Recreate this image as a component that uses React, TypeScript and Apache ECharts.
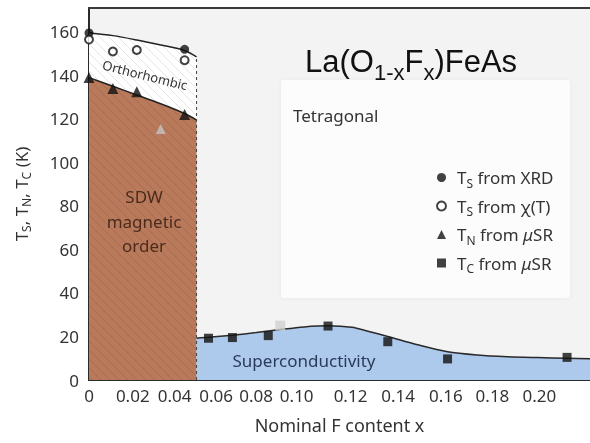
import React, { useEffect, useRef } from 'react';
import * as echarts from 'echarts';

// Measured transition temperatures (x = nominal F content, value in K)
const TS_XRD = [[0, 159.5], [0.04, 152]];
const TS_CHI = [[0, 156.5], [0.01, 151], [0.02, 151.7], [0.04, 147]];
const TN_MUSR = [[0, 139], [0.01, 134], [0.02, 132.5], [0.04, 122]];
const TC_MUSR = [[0.05, 19.2], [0.06, 19.5], [0.075, 20.4], [0.1, 24.8], [0.125, 17.6], [0.15, 9.7], [0.2, 10.4]];
const GREY_TRIANGLES = [[0.03, 115.4]];
const GREY_SQUARES = [[0.08, 25]];

// Phase boundaries
const TS_BOUNDARY = [[0, 159.5], [0.01, 158.3], [0.02, 156.3], [0.03, 154], [0.04, 151.5], [0.045, 148.5]];
const TN_BOUNDARY = [[0, 139], [0.01, 135], [0.02, 131], [0.03, 127], [0.04, 122.5], [0.045, 119.5]];
const TC_DOME = [
  [0.045, 19.2], [0.05, 19.6], [0.06, 20.6], [0.07, 21.8], [0.08, 23.2], [0.09, 24.4], [0.1, 24.9],
  [0.11, 24.2], [0.1167, 22.4], [0.125, 20], [0.1375, 16.2], [0.15, 13], [0.1625, 11.5],
  [0.175, 10.7], [0.1875, 10.3], [0.2, 10], [0.2096, 9.8],
];
const SDW_EDGE = [[0.045, 0], [0.045, 148.5]];

// x tick labels and where each one sits along the axis
const X_LABELS = ['0', '0.02', '0.04', '0.06', '0.08', '0.10', '0.12', '0.14', '0.16', '0.18', '0.20'];
const X_LABEL_AT = [0, 0.0183, 0.0358, 0.0532, 0.0699, 0.0869, 0.1094, 0.1293, 0.1493, 0.1688, 0.1884];

const LEGEND_TEXT: Record<string, string> = {
  'TS XRD': '{f|T}{s|S} from XRD',
  'TS chi': '{f|T}{s|S} from χ(T)',
  'TN muSR': '{f|T}{s|N} from {i|μ}SR',
  'TC muSR': '{f|T}{s|C} from {i|μ}SR',
};

const FONT = '"Noto Sans", "DejaVu Sans", sans-serif';
const TEXT = '#333333';
const X_MAX = 0.2096;

function hatch(bg: string, line: string, size: number) {
  const c = document.createElement('canvas');
  c.width = size;
  c.height = size;
  const g = c.getContext('2d')!;
  g.fillStyle = bg;
  g.fillRect(0, 0, size, size);
  g.strokeStyle = line;
  g.lineWidth = 1;
  g.beginPath();
  g.moveTo(-1, -1);
  g.lineTo(size + 1, size + 1);
  g.stroke();
  return { image: c, repeat: 'repeat', imageWidth: size, imageHeight: size };
}

export default function App() {
  const ref = useRef<HTMLDivElement>(null);

  useEffect(() => {
    if (!ref.current) return;
    const chart = echarts.init(ref.current, undefined, { renderer: 'svg' });

    const whiteHatch = hatch('#ffffff', 'rgba(0,0,0,0.10)', 9);
    const brownHatch = hatch('#b97a5c', 'rgba(90,40,20,0.16)', 9);

    const subRich = {
      m: { fontFamily: FONT, fontSize: 17, lineHeight: 20, color: TEXT },
      f: { fontFamily: FONT, fontSize: 17, lineHeight: 20, color: TEXT, padding: [0, 0, 0, 6] },
      s: { fontFamily: FONT, fontSize: 12, lineHeight: 12, padding: [11, 0, 0, 0], color: TEXT },
      i: { fontFamily: FONT, fontSize: 17, lineHeight: 20, fontStyle: 'italic', color: TEXT },
    };

    chart.setOption({
      animation: false,
      grid: {
        left: 89, right: 0, top: 8, bottom: 63,
        show: true, backgroundColor: '#f3f3f3', borderWidth: 0,
      },
      xAxis: [
        {
          type: 'value', min: 0, max: X_MAX, interval: 0.02,
          splitLine: { show: false },
          axisLine: { show: true, lineStyle: { color: '#2b2b2b', width: 2 } },
          axisTick: { show: true, inside: true, length: 5, lineStyle: { color: '#2b2b2b' } },
          minorTick: { show: true, splitNumber: 2, length: 3, lineStyle: { color: '#2b2b2b' } },
          axisLabel: {
            customValues: X_LABEL_AT,
            margin: 7,
            color: TEXT, fontFamily: FONT, fontSize: 17,
            formatter: (v: number) => {
              const i = X_LABEL_AT.findIndex((p) => Math.abs(p - v) < 1e-6);
              return i >= 0 ? X_LABELS[i] : '';
            },
          },
          name: 'Nominal F content x',
          nameLocation: 'middle', nameGap: 36,
          nameTextStyle: { color: TEXT, fontFamily: FONT, fontSize: 18 },
        },
        {
          // top frame line
          type: 'value', min: 0, max: X_MAX, position: 'top',
          splitLine: { show: false }, axisTick: { show: false }, axisLabel: { show: false },
          axisLine: { show: true, lineStyle: { color: '#3a3a3a', width: 2 } },
        },
      ],
      yAxis: {
        type: 'value', min: 0, max: 171, interval: 20,
        splitLine: { show: false },
        axisLine: { show: true, lineStyle: { color: '#2b2b2b', width: 2 } },
        axisTick: { show: true, inside: true, length: 4, lineStyle: { color: '#2b2b2b' } },
        axisLabel: { showMaxLabel: false, margin: 10, color: TEXT, fontFamily: FONT, fontSize: 17 },
        name: '{m|T}{s|S}{m|, T}{s|N}{m|, T}{s|C}{m| (K)}',
        nameLocation: 'middle', nameGap: 58, nameRotate: 90,
        nameTextStyle: { rich: subRich },
      },
      legend: {
        data: ['TS XRD', 'TS chi', 'TN muSR', 'TC muSR'],
        orient: 'vertical', left: 431, top: 161,
        itemWidth: 9, itemHeight: 9, itemGap: 5.5,
        formatter: (n: string) => LEGEND_TEXT[n],
        textStyle: { color: TEXT, fontFamily: FONT, fontSize: 17, rich: subRich },
      },
      graphic: [
        {
          type: 'rect', z: 1, silent: true,
          shape: { x: 281, y: 80, width: 289, height: 218, r: 3 },
          style: { fill: '#fcfcfc', shadowBlur: 4, shadowColor: 'rgba(0,0,0,0.04)' },
        },
        {
          type: 'text', z: 100, x: 305, y: 61,
          style: {
            text: '{m|La(O}{s|1-x}{m|F}{s|x}{m|)FeAs}',
            verticalAlign: 'middle', align: 'left',
            rich: {
              m: { fontFamily: '"Liberation Sans", Arial, sans-serif', fontSize: 31, lineHeight: 36, fill: '#111' },
              s: { fontFamily: '"Liberation Sans", Arial, sans-serif', fontSize: 22, lineHeight: 22, padding: [22, 0, 0, 0], fill: '#111' },
            },
          },
        },
        {
          type: 'text', z: 100, x: 293, y: 115,
          style: { text: 'Tetragonal', fontFamily: FONT, fontSize: 17, fill: TEXT, align: 'left', verticalAlign: 'middle' },
        },
        {
          type: 'text', z: 100, x: 144, y: 221,
          style: {
            text: 'SDW\nmagnetic\norder', fontFamily: FONT, fontSize: 17, lineHeight: 24.5,
            fill: '#4b2b1c', align: 'center', verticalAlign: 'middle',
          },
        },
        {
          type: 'text', z: 100, x: 304, y: 360,
          style: { text: 'Superconductivity', fontFamily: FONT, fontSize: 17, fill: '#2b3b5a', align: 'center', verticalAlign: 'middle' },
        },
        {
          type: 'text', z: 100, x: 145, y: 75, rotation: (-14 * Math.PI) / 180,
          style: { text: 'Orthorhombic', fontFamily: FONT, fontSize: 13, fill: TEXT, align: 'center', verticalAlign: 'middle' },
        },
      ],
      series: [
        {
          type: 'line', data: TS_BOUNDARY, smooth: 0.3, showSymbol: false, silent: true, z: 2,
          lineStyle: { color: '#222', width: 1.5 },
          areaStyle: { color: whiteHatch, opacity: 1 },
        },
        {
          type: 'line', data: TN_BOUNDARY, smooth: 0.3, showSymbol: false, silent: true, z: 3,
          lineStyle: { color: '#222', width: 1.5 },
          areaStyle: { color: brownHatch, opacity: 1 },
        },
        {
          type: 'line', data: TC_DOME, smooth: 0.3, showSymbol: false, silent: true, z: 3,
          lineStyle: { color: '#2a2a2a', width: 1.5 },
          areaStyle: { color: '#adc9ec', opacity: 1 },
        },
        {
          type: 'line', data: SDW_EDGE, showSymbol: false, silent: true, z: 4,
          lineStyle: { color: '#444', width: 1, type: [3, 3] },
        },
        { name: 'TS XRD', type: 'scatter', data: TS_XRD, symbol: 'circle', symbolSize: 9, itemStyle: { color: '#111' }, z: 6 },
        { name: 'TS chi', type: 'scatter', data: TS_CHI, symbol: 'emptyCircle', symbolSize: 8, itemStyle: { color: '#111' }, z: 6 },
        { name: 'TN muSR', type: 'scatter', data: TN_MUSR, symbol: 'triangle', symbolSize: 11, itemStyle: { color: '#111' }, z: 6 },
        { name: 'TC muSR', type: 'scatter', data: TC_MUSR, symbol: 'rect', symbolSize: 9, itemStyle: { color: '#111' }, z: 6 },
        { type: 'scatter', data: GREY_TRIANGLES, symbol: 'triangle', symbolSize: 10, itemStyle: { color: '#c4c4c4' }, z: 6 },
        { type: 'scatter', data: GREY_SQUARES, symbol: 'rect', symbolSize: 10, itemStyle: { color: '#d0d0d0' }, z: 6 },
      ],
    });

    return () => chart.dispose();
  }, []);

  return <div ref={ref} style={{ position: 'fixed', left: 0, top: 0, width: 590, height: 443 }} />;
}
